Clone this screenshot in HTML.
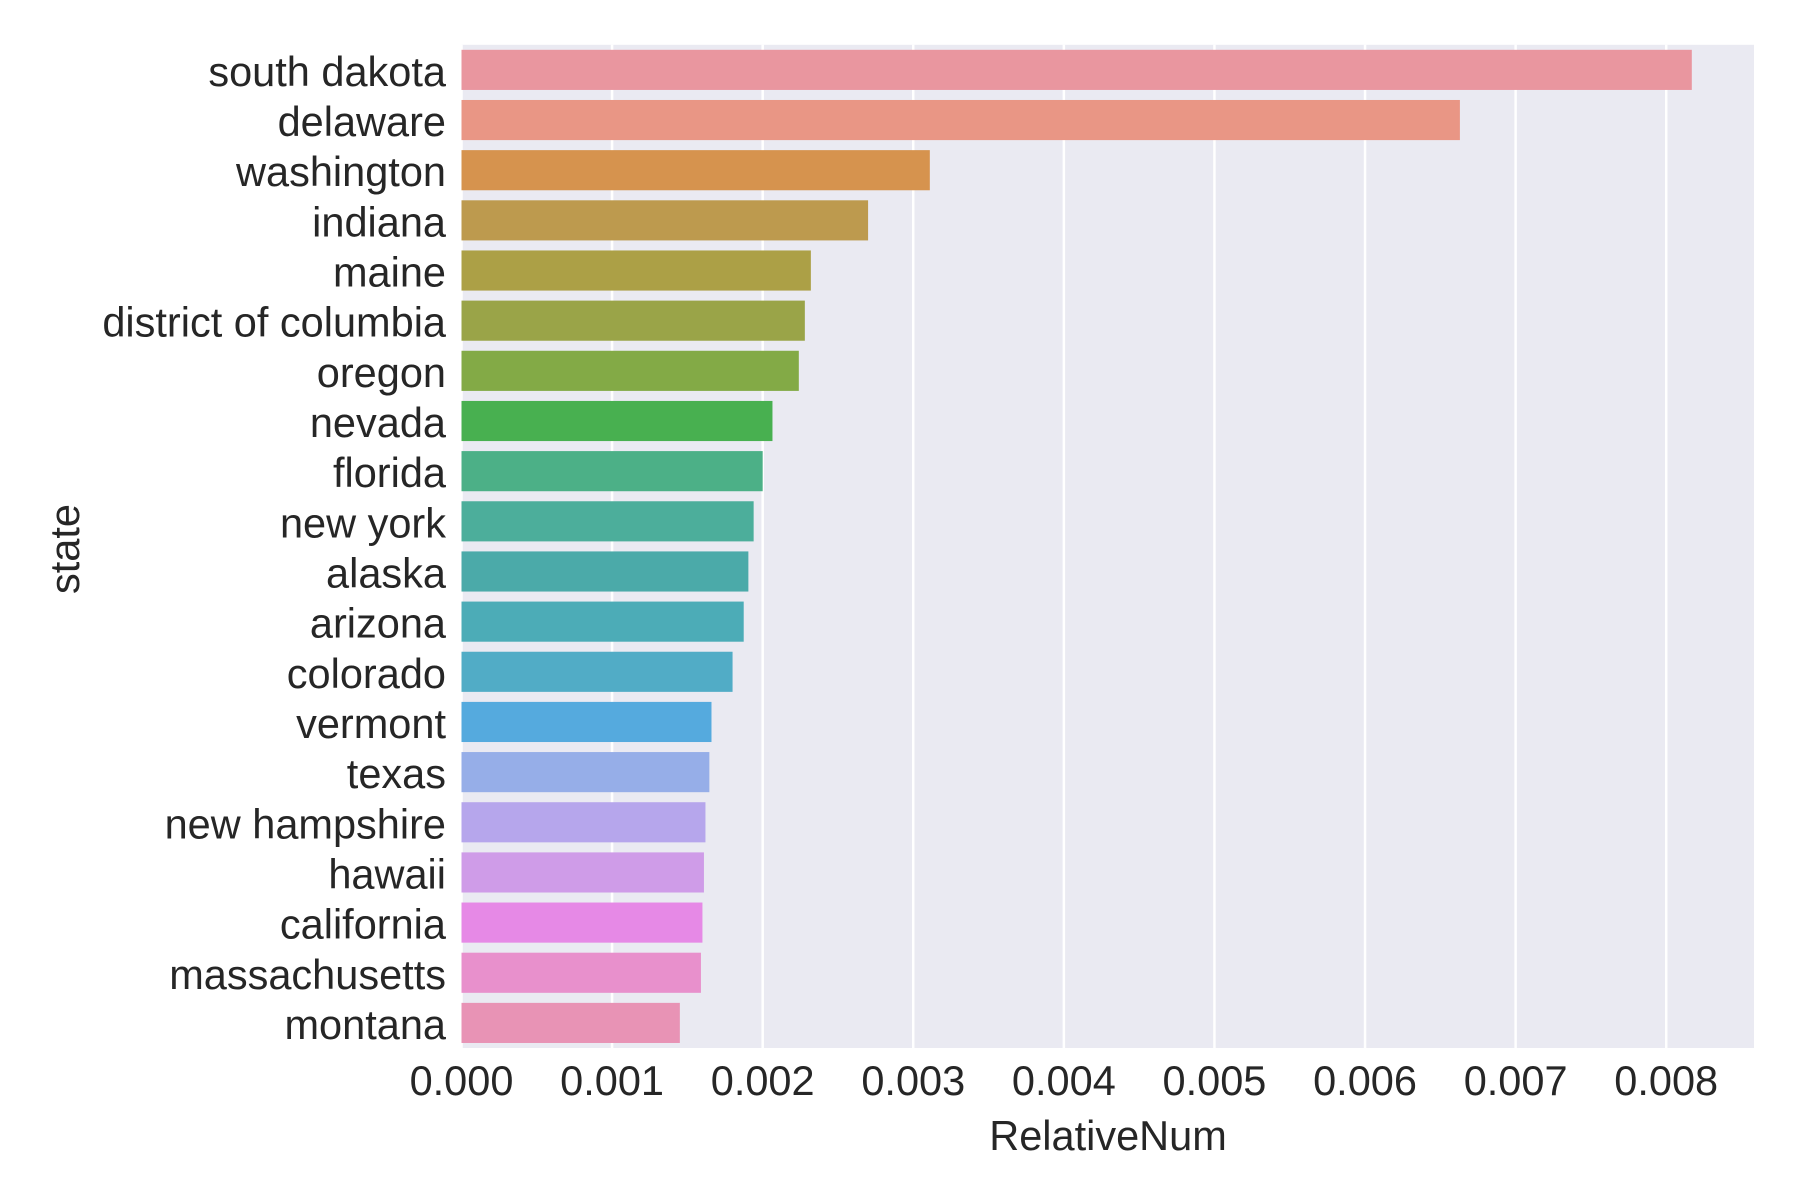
<!DOCTYPE html>
<html><head><meta charset="utf-8"><style>
html,body{margin:0;padding:0;background:#fff;}
svg{display:block;font-family:"Liberation Sans",Arial,sans-serif;}
</style></head><body>
<svg id="chart" width="1800" height="1200" viewBox="0 0 1800 1200">
<rect x="461.5" y="44.8" width="1292.5" height="1003.2" fill="#eaeaf2"/>
<g id="grid"></g>
<g id="bars"></g>
<g id="yticks"></g>
<g id="xticks"></g>
<text x="1108" y="1150" font-size="41.5" fill="#262626" text-anchor="middle">RelativeNum</text>
<text transform="translate(79,549) rotate(-90)" font-size="41.5" fill="#262626" text-anchor="middle">state</text>
</svg>
<script>
const categories = ["south dakota","delaware","washington","indiana","maine","district of columbia","oregon","nevada","florida","new york","alaska","arizona","colorado","vermont","texas","new hampshire","hawaii","california","massachusetts","montana"];
const values = [0.00817,0.00663,0.00311,0.00270,0.00232,0.00228,0.00224,0.002065,0.00200,0.00194,0.001905,0.001874,0.00180,0.00166,0.001646,0.00162,0.00161,0.00160,0.00159,0.00145];
const colors = ["#e9969f","#e99685","#d6934e","#bd9a4e","#aca046","#9aa448","#83aa46","#48b050","#4cb087","#4cae9b","#4baaa9","#4cacb7","#51acc6","#55aade","#96aee8","#b6a6ec","#cf9ce8","#e689e6","#e890cc","#e893b5"];
const xTicks = [0,0.001,0.002,0.003,0.004,0.005,0.006,0.007,0.008];
const xTickLabels = ["0.000","0.001","0.002","0.003","0.004","0.005","0.006","0.007","0.008"];

const NS="http://www.w3.org/2000/svg";
const L=461.5,R=1754,T=44.8,B=1048,XMAX=0.008583;
const xs=v=>L+(v/XMAX)*(R-L);
const band=(B-T)/categories.length;
const yc=i=>T+band*(i+0.5);
function mk(t,a){const e=document.createElementNS(NS,t);for(const k in a)e.setAttribute(k,a[k]);return e;}
const grid=document.getElementById('grid'),bars=document.getElementById('bars'),yt=document.getElementById('yticks'),xt=document.getElementById('xticks');
xTicks.forEach((v,i)=>{
  const ln=mk('line',{x1:xs(v),x2:xs(v),y1:T,y2:B,stroke:'#fff','stroke-width':2.5});
  
  
  grid.appendChild(ln);
  const tx=mk('text',{x:xs(v),y:1095,'font-size':41.5,fill:'#262626','text-anchor':'middle'});
  tx.textContent=xTickLabels[i];
  
  
  xt.appendChild(tx);
});
categories.forEach((c,i)=>{
  const h=band*0.8;
  const r=mk('rect',{x:L,y:yc(i)-h/2,width:xs(values[i])-L,height:h,fill:colors[i]});
  
  
  bars.appendChild(r);
  const tx=mk('text',{x:446,y:yc(i)+16,'font-size':41.5,fill:'#262626','text-anchor':'end'});
  tx.textContent=c;
  
  
  yt.appendChild(tx);
});
</script>
</body></html>
